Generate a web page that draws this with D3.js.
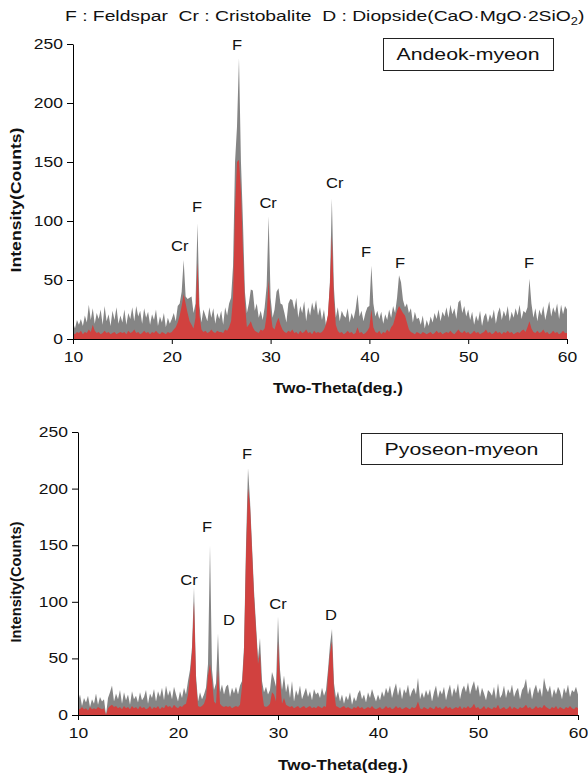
<!DOCTYPE html>
<html>
<head>
<meta charset="utf-8">
<script src="https://cdn.jsdelivr.net/npm/d3@7"></script>
<style>
  body { margin: 0; background: #fff; }
  svg { display: block; font-family: "Liberation Sans", Arial, sans-serif; }
</style>
</head>
<body>
<svg id="chart" width="588" height="775"></svg>
<script>
// XRD patterns: counts every 0.2 deg from 10 to 60
const THETA_START = 10;
const THETA_STEP = 0.2;

const andeokGray = [
  14, 9, 16, 12, 17, 11, 20, 14, 29, 16, 26, 13, 22, 17, 25, 12, 28, 15, 21, 11, 24, 16, 27, 13, 20,
  14, 25, 12, 22, 17, 27, 15, 28, 19, 24, 13, 26, 18, 23, 12, 21, 16, 25, 11, 19, 14, 22, 10, 18, 13,
  17, 22, 15, 28, 30, 40, 67, 36, 34, 35, 36, 22, 30, 98, 28, 14, 25, 20, 15, 27, 18, 26, 13, 22, 17,
  24, 12, 27, 20, 30, 35, 62, 150, 180, 238, 150, 100, 40, 22, 30, 42, 41, 24, 30, 18, 24, 16, 27, 45, 104,
  35, 18, 25, 40, 43, 30, 29, 22, 14, 30, 34, 33, 25, 35, 18, 28, 22, 32, 15, 27, 20, 31, 24, 33, 20,
  27, 16, 25, 12, 20, 48, 119, 45, 18, 27, 15, 24, 20, 18, 26, 14, 22, 17, 25, 38, 19, 24, 15, 22, 27,
  28, 62, 30, 19, 24, 17, 23, 13, 21, 16, 25, 18, 28, 22, 35, 54, 48, 33, 27, 30, 22, 26, 14, 23, 17,
  18, 12, 20, 9, 16, 11, 19, 14, 22, 17, 25, 15, 23, 19, 27, 18, 29, 21, 26, 17, 31, 33, 22, 28, 19,
  25, 16, 23, 12, 20, 15, 24, 11, 19, 22, 14, 21, 17, 25, 13, 22, 27, 16, 24, 19, 28, 15, 23, 18, 26,
  20, 29, 17, 24, 22, 27, 51, 30, 18, 26, 15, 25, 20, 28, 16, 24, 32, 19, 27, 22, 30, 17, 29, 21, 28,
  25
];

const andeokRed = [
  5, 4, 6, 5, 7, 4, 6, 5, 8, 6, 12, 7, 5, 6, 4, 5, 7, 5, 6, 4, 5, 6, 4, 5, 6,
  5, 6, 4, 7, 5, 6, 8, 5, 6, 4, 5, 7, 5, 6, 4, 6, 5, 7, 5, 4, 6, 5, 4, 6, 5,
  6, 8, 10, 14, 20, 28, 38, 30, 22, 15, 12, 9, 18, 65, 20, 8, 6, 7, 5, 6, 8, 6, 5, 7, 6,
  6, 5, 8, 7, 10, 15, 35, 110, 150, 152, 125, 75, 30, 10, 12, 15, 10, 7, 6, 5, 8, 7, 9, 20, 50,
  22, 10, 8, 14, 18, 12, 8, 6, 5, 7, 6, 8, 5, 6, 4, 7, 5, 6, 8, 5, 6, 4, 7, 5, 6,
  5, 6, 8, 12, 20, 45, 88, 35, 12, 7, 5, 6, 4, 5, 7, 5, 6, 4, 5, 10, 5, 6, 4, 5, 7,
  10, 25, 10, 6, 5, 7, 4, 6, 5, 8, 6, 10, 12, 18, 24, 28, 25, 22, 20, 14, 8, 6, 5, 4, 6,
  5, 4, 6, 5, 4, 5, 6, 4, 5, 7, 5, 6, 4, 5, 6, 5, 7, 5, 4, 6, 8, 6, 5, 7, 5,
  6, 4, 5, 7, 5, 6, 4, 5, 6, 8, 5, 6, 4, 5, 7, 5, 6, 4, 6, 5, 7, 5, 6, 4, 5,
  6, 5, 7, 8, 6, 10, 15, 9, 6, 5, 7, 5, 6, 8, 5, 6, 4, 5, 7, 5, 6, 4, 5, 7, 5,
  5
];

const pyoseonGray = [
  12, 18, 8, 15, 11, 17, 7, 14, 10, 19, 9, 16, 12, 14, 0, 15, 20, 26, 12, 19, 14, 22, 10, 20, 13,
  18, 9, 21, 14, 17, 11, 20, 13, 16, 22, 10, 19, 15, 23, 12, 21, 16, 24, 13, 26, 17, 22, 14, 25, 18,
  12, 21, 15, 24, 18, 30, 40, 60, 113, 35, 12, 20, 14, 18, 24, 45, 150, 40, 22, 28, 72, 20, 27, 18, 25,
  27, 16, 24, 19, 25, 18, 26, 30, 60, 150, 218, 190, 150, 110, 80, 50, 68, 30, 20, 25, 18, 22, 38, 32, 25,
  87, 40, 22, 35, 20, 28, 15, 30, 12, 22, 17, 26, 14, 19, 24, 16, 21, 13, 23, 18, 20, 15, 24, 17, 22,
  40, 62, 76, 28, 15, 21, 12, 18, 10, 17, 13, 20, 9, 16, 12, 19, 22, 14, 18, 11, 20, 15, 23, 17, 12,
  18, 13, 21, 16, 24, 19, 26, 15, 22, 28, 17, 25, 14, 23, 19, 27, 16, 21, 24, 18, 33, 14, 20, 15, 22,
  17, 23, 12, 20, 26, 15, 22, 18, 25, 13, 21, 27, 16, 24, 19, 28, 14, 22, 26, 20, 29, 18, 25, 30, 21,
  27, 16, 24, 19, 13, 22, 20, 17, 25, 14, 28, 15, 18, 26, 15, 23, 19, 27, 16, 21, 24, 14, 22, 25, 32,
  18, 25, 14, 22, 27, 19, 24, 16, 33, 24, 20, 26, 15, 23, 18, 25, 21, 14, 24, 19, 27, 16, 22, 20, 25,
  18
];

const pyoseonRed = [
  6, 5, 7, 5, 6, 4, 7, 5, 6, 5, 7, 6, 5, 6, 0, 6, 8, 9, 7, 8, 6, 7, 5, 8, 6,
  7, 5, 8, 6, 7, 5, 8, 6, 7, 5, 6, 8, 5, 7, 6, 8, 5, 7, 6, 9, 7, 8, 6, 9, 7,
  6, 8, 7, 9, 10, 18, 35, 55, 100, 30, 8, 7, 8, 10, 15, 35, 45, 30, 12, 10, 40, 10, 8, 7, 8,
  7, 8, 6, 7, 8, 7, 9, 25, 55, 140, 200, 185, 145, 105, 75, 45, 55, 20, 8, 7, 8, 10, 20, 18, 12,
  65, 30, 10, 15, 9, 8, 7, 8, 6, 7, 8, 6, 7, 8, 6, 7, 8, 6, 7, 6, 8, 7, 6, 8, 7,
  35, 55, 65, 20, 8, 7, 6, 7, 8, 6, 7, 6, 5, 7, 6, 8, 6, 7, 5, 6, 7, 6, 8, 6, 5,
  6, 7, 5, 6, 8, 6, 7, 5, 6, 8, 6, 7, 5, 6, 7, 6, 5, 7, 6, 7, 12, 6, 5, 7, 6,
  5, 7, 6, 5, 8, 6, 7, 5, 6, 8, 6, 7, 5, 6, 7, 6, 8, 5, 7, 6, 8, 6, 7, 10, 6,
  7, 5, 6, 8, 5, 7, 6, 5, 7, 6, 9, 5, 6, 7, 5, 6, 8, 5, 7, 6, 5, 7, 6, 7, 9,
  6, 7, 5, 6, 8, 6, 7, 6, 9, 7, 6, 5, 7, 6, 8, 5, 7, 6, 5, 7, 6, 8, 6, 5, 7,
  6
];

// peak labels: phase code, 2-theta and intensity where the label sits
const andeokPeaks = [
  { label: 'Cr', theta: 20.8, counts: 79 },
  { label: 'F', theta: 22.55, counts: 112 },
  { label: 'F', theta: 26.6, counts: 249 },
  { label: 'Cr', theta: 29.75, counts: 115 },
  { label: 'Cr', theta: 36.5, counts: 132 },
  { label: 'F', theta: 39.65, counts: 74 },
  { label: 'F', theta: 43.1, counts: 64 },
  { label: 'F', theta: 56.15, counts: 64 }
];

const pyoseonPeaks = [
  { label: 'Cr', theta: 21.1, counts: 119 },
  { label: 'F', theta: 22.9, counts: 166 },
  { label: 'D', theta: 25.1, counts: 84 },
  { label: 'F', theta: 26.9, counts: 231 },
  { label: 'Cr', theta: 30.0, counts: 98 },
  { label: 'D', theta: 35.3, counts: 88 }
];

const phases = [
  { code: 'F', name: 'Feldspar' },
  { code: 'Cr', name: 'Cristobalite' },
  { code: 'D', name: 'Diopside(CaO·MgO·2SiO', sub: '2', after: ')' }
];

const xTicks = [10, 20, 30, 40, 50, 60];
const yTicks = [0, 50, 100, 150, 200, 250];

const COLORS = { gray: '#858585', red: '#d1413f', axis: '#000' };
const TICK_SCALE = 1.25;

const PANELS = [
  {
    name: 'Andeok-myeon', gray: andeokGray, red: andeokRed, peaks: andeokPeaks,
    x0: 73, x1: 567, yBase: 339, yTop: 44,
    box: { x: 383, y: 38, w: 170, h: 32, textW: 143 },
    yLabel: { x: 21, y: 200, len: 145 },
    xLabel: { x: 338, y: 393, len: 130 }
  },
  {
    name: 'Pyoseon-myeon', gray: pyoseonGray, red: pyoseonRed, peaks: pyoseonPeaks,
    x0: 78, x1: 578, yBase: 715, yTop: 432,
    box: { x: 361, y: 433, w: 201, h: 31, textW: 154 },
    yLabel: { x: 21, y: 582, len: 121 },
    xLabel: { x: 343, y: 770, len: 130 }
  }
];

const svg = d3.select('#chart');

// stretch a text horizontally to a wanted width
function fitText(text, width, pre) {
  const len = text.node().getComputedTextLength();
  const s = width / len;
  text.attr('transform', `${pre} scale(${s},1)`);
}

function drawTitle() {
  const t = svg.append('text')
    .attr('font-size', 15)
    .attr('fill', '#111')
    .style('white-space', 'pre');
  phases.forEach((p, i) => {
    t.append('tspan').text((i ? '  ' : '') + p.code + ' : ' + p.name);
    if (p.sub) {
      t.append('tspan').attr('font-size', 10).attr('dy', 4).text(p.sub);
      t.append('tspan').attr('dy', -4).text(p.after);
    }
  });
  fitText(t, 520, 'translate(65,21)');
}

function drawPanel(p) {
  const x = d3.scaleLinear().domain([10, 60]).range([p.x0, p.x1]);
  const y = d3.scaleLinear().domain([0, 250]).range([p.yBase, p.yTop]);
  const theta = i => THETA_START + i * THETA_STEP;

  const area = d3.area()
    .x((d, i) => x(theta(i)))
    .y0(y(0))
    .y1(d => y(d));

  svg.append('path').datum(p.gray)
    .attr('d', area).attr('fill', COLORS.gray);
  svg.append('path').datum(p.red)
    .attr('d', area).attr('fill', COLORS.red);

  // axes
  const xAxis = svg.append('g')
    .attr('transform', `translate(0,${p.yBase})`)
    .call(d3.axisBottom(x).tickValues(xTicks).tickSize(5).tickSizeOuter(0).tickPadding(8));
  const yAxis = svg.append('g')
    .attr('transform', `translate(${p.x0},0)`)
    .call(d3.axisLeft(y).tickValues(yTicks).tickSize(6).tickSizeOuter(0).tickPadding(4));

  [xAxis, yAxis].forEach(g => {
    g.attr('font-family', null).attr('font-size', null);
    g.select('.domain').attr('stroke', COLORS.axis);
    g.selectAll('.tick line').attr('stroke', COLORS.axis);
    g.selectAll('.tick text')
      .attr('fill', '#111')
      .attr('font-size', 14)
      .attr('transform', `scale(${TICK_SCALE},1)`);
  });
  yAxis.selectAll('.tick text').attr('x', -10 / TICK_SCALE);

  // axis titles
  const xl = svg.append('text')
    .attr('text-anchor', 'middle')
    .attr('font-weight', 'bold')
    .attr('font-size', 14)
    .attr('fill', '#111')
    .text('Two-Theta(deg.)');
  fitText(xl, p.xLabel.len, `translate(${p.xLabel.x},${p.xLabel.y})`);

  const yl = svg.append('text')
    .attr('text-anchor', 'middle')
    .attr('font-weight', 'bold')
    .attr('font-size', 14)
    .attr('fill', '#111')
    .text('Intensity(Counts)');
  fitText(yl, p.yLabel.len, `translate(${p.yLabel.x},${p.yLabel.y}) rotate(-90)`);

  // peak labels
  p.peaks.forEach(d => {
    svg.append('text')
      .attr('text-anchor', 'middle')
      .attr('font-size', 15)
      .attr('fill', '#111')
      .attr('transform', `translate(${x(d.theta)},${y(d.counts) + 5}) scale(1.1,1)`)
      .text(d.label);
  });

  // sample name box
  svg.append('rect')
    .attr('x', p.box.x + 0.5).attr('y', p.box.y + 0.5)
    .attr('width', p.box.w).attr('height', p.box.h)
    .attr('fill', '#fff').attr('stroke', '#222').attr('stroke-width', 1);
  const bt = svg.append('text')
    .attr('text-anchor', 'middle')
    .attr('font-size', 17)
    .attr('fill', '#111')
    .text(p.name);
  fitText(bt, p.box.textW, `translate(${p.box.x + p.box.w / 2},${p.box.y + p.box.h / 2 + 6})`);
}

drawTitle();
PANELS.forEach(drawPanel);
</script>
</body>
</html>
